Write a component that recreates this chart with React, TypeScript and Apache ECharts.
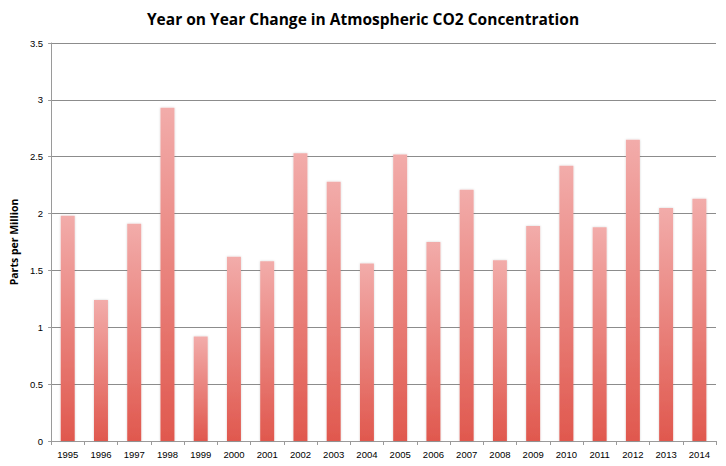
import React, { useEffect, useRef } from "react";
import * as echarts from "echarts";

const years = ["1995","1996","1997","1998","1999","2000","2001","2002","2003","2004","2005","2006","2007","2008","2009","2010","2011","2012","2013","2014"];
const changes = [1.98,1.24,1.91,2.93,0.92,1.62,1.58,2.53,2.28,1.56,2.52,1.75,2.21,1.59,1.89,2.42,1.88,2.65,2.05,2.13];
const titleText = "Year on Year Change in Atmospheric CO2 Concentration";
const yAxisName = "Parts per Million";

export default function App() {
  const ref = useRef<HTMLDivElement>(null);
  useEffect(() => {
    if (!ref.current) return;
    const chart = echarts.init(ref.current, undefined, { renderer: "svg" });
    chart.setOption({
      animation: false,
      backgroundColor: "#fff",
      title: {
        text: titleText,
        left: "center",
        top: 6,
        textStyle: { fontFamily: "Open Sans", fontWeight: "bold", fontSize: 15.5, color: "#000" },
      },
      grid: { left: 49, right: 10, top: 43, bottom: 25, containLabel: false },
      xAxis: {
        type: "category",
        data: years,
        axisLine: { lineStyle: { color: "#9a9a9a", width: 1 } },
        axisTick: { show: true, length: 4, lineStyle: { color: "#9a9a9a" } },
        axisLabel: { color: "#000", fontFamily: "Liberation Sans", fontSize: 9.5, margin: 8 },
      },
      yAxis: {
        type: "value",
        min: 0,
        max: 3.5,
        interval: 0.5,
        name: yAxisName,
        nameLocation: "middle",
        nameGap: 28,
        nameTextStyle: { fontFamily: "Open Sans", fontWeight: "bold", fontSize: 10.5, color: "#000" },
        axisLine: { show: true, lineStyle: { color: "#9a9a9a", width: 1 } },
        axisTick: { show: true, length: 3, lineStyle: { color: "#9a9a9a" } },
        axisLabel: { color: "#000", fontFamily: "Liberation Sans", fontSize: 9.5, margin: 8 },
        splitLine: { lineStyle: { color: "#8c8c8c", width: 1 } },
      },
      series: [
        {
          type: "bar",
          data: changes,
          barWidth: "42%",
          itemStyle: {
            color: new echarts.graphic.LinearGradient(0, 0, 0, 1, [
              { offset: 0, color: "#f2acaa" },
              { offset: 1, color: "#e0584e" },
            ]),
            shadowColor: "rgba(0,0,0,0.18)",
            shadowBlur: 2,
          },
        },
      ],
      graphic: [
        {
          type: "line",
          shape: { x1: 0, y1: 464.5, x2: 722, y2: 464.5 },
          style: { stroke: "#c5cdd8", lineWidth: 1 },
        },
      ],
    });
    return () => chart.dispose();
  }, []);
  return <div ref={ref} style={{ width: 726, height: 466, margin: -8 }} />;
}
